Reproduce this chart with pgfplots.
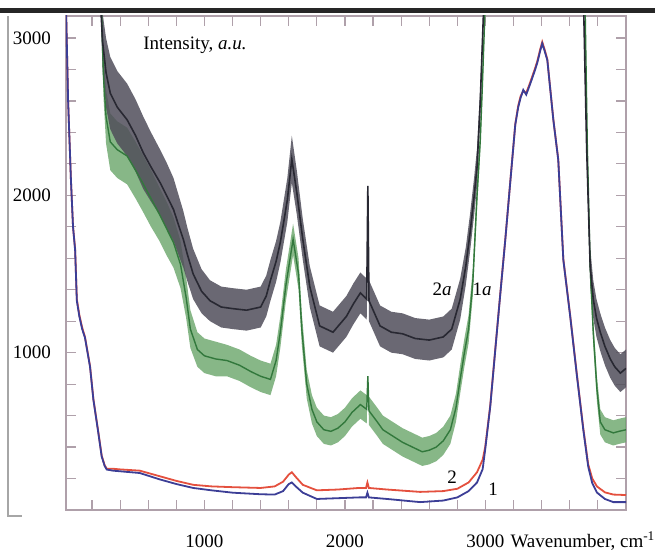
\documentclass[border=0pt]{standalone}
\usepackage{fontspec}
\setmainfont{Liberation Serif}
\usepackage{pgfplots}
\usepackage{pgfplotstable}
\pgfplotsset{compat=1.18}
\usepgfplotslibrary{fillbetween}
\definecolor{cred}{RGB}{228,80,62}
\definecolor{cblue}{RGB}{60,62,150}
\definecolor{cdark}{RGB}{40,40,50}
\definecolor{cdarkband}{RGB}{80,78,90}
\definecolor{cgreen}{RGB}{50,120,60}
\definecolor{cgreenband}{RGB}{105,165,105}
\definecolor{caxis}{RGB}{175,160,170}

\pgfplotstableread{
x c lo hi
258 3500 3500 3500
265 3150 3070 3230
275 2980 2800 3160
300 2780 2560 3000
330 2650 2420 2880
380 2560 2330 2790
450 2480 2250 2710
510 2380 2150 2610
565 2270 2040 2500
620 2180 1960 2400
685 2080 1870 2290
730 2000 1790 2210
780 1910 1710 2110
820 1800 1610 1990
850 1720 1540 1900
880 1620 1450 1790
920 1500 1340 1660
980 1390 1250 1530
1040 1330 1200 1460
1120 1290 1160 1420
1200 1280 1150 1410
1300 1270 1140 1400
1400 1290 1160 1420
1440 1360 1230 1490
1470 1460 1330 1590
1510 1580 1450 1710
1540 1700 1570 1830
1590 1970 1830 2110
1622 2230 2080 2380
1657 2020 1880 2160
1700 1720 1590 1850
1750 1420 1290 1550
1820 1170 1040 1300
1915 1130 1000 1260
2010 1230 1100 1360
2060 1310 1180 1440
2110 1380 1250 1510
2155 1340 1210 1470
2163 2060 2060 2060
2171 1330 1200 1460
2250 1170 1040 1300
2330 1130 1000 1260
2410 1120 990 1250
2500 1090 960 1220
2600 1080 950 1210
2700 1100 970 1230
2760 1150 1020 1280
2820 1340 1210 1470
2860 1550 1430 1670
2890 1760 1640 1880
2920 2000 1880 2120
2940 2180 2060 2300
2963 2600 2510 2690
2985 3140 3090 3190
3000 3500 3500 3500
3680 3500 3500 3500
3700 3140 3090 3190
3720 2300 2210 2390
3745 1550 1430 1670
3767 1340 1220 1460
3790 1220 1100 1340
3817 1130 1010 1250
3850 1040 920 1160
3888 960 840 1080
3920 910 790 1030
3960 870 750 990
4000 900 780 1020
}\darkt

\pgfplotstableread{
x c lo hi
262 3500 3500 3500
270 3100 3040 3160
282 2750 2620 2880
300 2500 2330 2670
330 2340 2160 2520
380 2290 2110 2470
450 2250 2070 2430
510 2160 1980 2340
560 2080 1900 2260
620 1980 1800 2160
680 1880 1710 2050
730 1790 1620 1960
780 1700 1540 1860
830 1560 1410 1710
870 1350 1220 1480
900 1150 1030 1270
950 1020 910 1130
1000 980 870 1090
1080 960 850 1070
1160 950 850 1050
1250 920 820 1020
1330 880 780 980
1400 850 750 950
1470 830 730 930
1510 950 850 1050
1540 1130 1030 1230
1580 1430 1330 1530
1631 1720 1620 1820
1670 1500 1400 1600
1693 1150 1050 1250
1728 800 710 890
1765 640 550 730
1800 560 470 650
1850 510 420 600
1900 500 410 590
1950 520 430 610
2000 560 470 650
2050 620 530 710
2110 670 580 760
2155 640 550 730
2163 850 850 850
2171 630 540 720
2230 560 470 650
2270 510 420 600
2340 470 380 560
2410 430 340 520
2480 400 310 490
2550 370 280 460
2600 380 290 470
2650 400 310 490
2700 440 350 530
2750 510 420 600
2790 650 560 740
2820 830 740 920
2850 1000 910 1090
2880 1150 1060 1240
2910 1450 1360 1540
2940 2000 1920 2080
2963 2350 2280 2420
2978 2700 2640 2760
2995 3140 3090 3190
3010 3500 3500 3500
3690 3500 3500 3500
3710 3140 3090 3190
3725 2300 2230 2370
3745 1550 1470 1630
3767 1130 1050 1210
3793 770 690 850
3817 560 480 640
3850 510 430 590
3910 490 410 570
3950 500 420 580
4000 510 430 590
}\greent

\pgfplotstableread{
x y
15 3200
30 2600
50 2100
65 1800
80 1650
92 1330
110 1230
130 1150
150 1095
186 910
210 700
245 490
269 340
290 280
305 257
350 250
400 246
540 235
680 195
800 165
920 140
1050 125
1200 110
1400 100
1500 98
1560 120
1600 165
1622 175
1650 150
1700 110
1800 70
1950 75
2100 80
2150 80
2160 110
2170 80
2300 70
2535 50
2700 60
2800 80
2880 120
2940 175
2980 260
2998 384
3034 657
3070 1019
3105 1368
3141 1717
3176 2079
3212 2448
3233 2560
3250 2620
3269 2670
3290 2640
3319 2710
3350 2790
3368 2840
3390 2920
3404 2965
3420 2920
3440 2860
3483 2479
3518 2225
3554 1590
3603 1230
3651 850
3696 511
3731 276
3760 170
3793 111
3850 70
3910 50
4000 50
}\bluet

\pgfplotstableread{
x y
15 3200
30 2600
50 2100
65 1800
80 1660
92 1340
110 1240
130 1160
150 1100
186 915
210 705
245 495
269 345
290 285
305 262
350 262
400 258
540 250
680 215
800 185
920 160
1050 150
1200 145
1400 140
1500 150
1560 180
1600 225
1622 240
1650 210
1700 160
1800 125
1950 130
2100 140
2150 140
2160 175
2170 140
2300 130
2535 115
2700 120
2800 135
2880 175
2940 240
2980 320
2998 400
3034 665
3070 1025
3105 1372
3141 1720
3176 2082
3212 2452
3233 2570
3250 2630
3269 2665
3290 2650
3319 2720
3350 2800
3368 2850
3390 2930
3404 2975
3420 2930
3440 2865
3483 2482
3518 2228
3554 1595
3603 1235
3651 858
3696 520
3731 290
3760 200
3793 150
3850 112
3910 98
4000 95
}\redt

\begin{document}
\begin{tikzpicture}
\begin{axis}[
  scale only axis,
  width=280pt, height=247pt,
  xmin=15, xmax=4000, ymin=0, ymax=3140,
  clip mode=individual,
  xtick={1000,2000,3000},
  minor xtick={200,400,...,3800},
  ytick={1000,2000,3000},
  minor ytick={200,400,...,3000},
  major tick length=5pt, minor tick length=5pt,
  axis line style={caxis, line width=0.6pt},
  every tick/.style={caxis, line width=0.6pt},
  /pgf/number format/assume math mode=true,
  /pgf/number format/1000 sep={},
  tick label style={font=\fontsize{9.5}{11}\selectfont},
  xticklabel style={anchor=base, yshift=-19pt},
  yticklabel style={xshift=-4pt},
]
\addplot[name path=glo, draw=none, forget plot] table[x=x, y=lo]{\greent};
\addplot[name path=ghi, draw=none, forget plot] table[x=x, y=hi]{\greent};
\addplot[fill=cgreenband, fill opacity=0.8, draw=none, forget plot] fill between[of=glo and ghi];
\addplot[cgreen, line width=0.7pt] table[x=x, y=c]{\greent};

\addplot[name path=dlo, draw=none, forget plot] table[x=x, y=lo]{\darkt};
\addplot[name path=dhi, draw=none, forget plot] table[x=x, y=hi]{\darkt};
\addplot[fill=cdarkband, fill opacity=0.85, draw=none, forget plot] fill between[of=dlo and dhi];
\addplot[cdark, line width=0.8pt] table[x=x, y=c]{\darkt};

\addplot[cred, line width=0.9pt] table[x=x, y=y]{\redt};
\addplot[cblue, line width=0.9pt] table[x=x, y=y]{\bluet};

\node[anchor=west, inner sep=0pt, font=\fontsize{9.5}{11}\selectfont] at (axis cs:563,2955) {Intensity, \textit{a.u.}};
\node[inner sep=0pt, font=\fontsize{9.5}{11}\selectfont] at (axis cs:2692,1400) {2\textit{a}};
\node[inner sep=0pt, font=\fontsize{9.5}{11}\selectfont] at (axis cs:2977,1400) {1\textit{a}};
\node[inner sep=0pt, font=\fontsize{9.5}{11}\selectfont] at (axis cs:2763,206) {2};
\node[inner sep=0pt, font=\fontsize{9.5}{11}\selectfont] at (axis cs:3055,130) {1};
\node[anchor=base west, inner sep=0pt, font=\fontsize{9.5}{11}\selectfont, yshift=-19pt, xshift=2.5pt] at (axis cs:3140,0) {Wavenumber, cm\textsuperscript{-1}};

\coordinate (bbl) at (rel axis cs:-0.11786,-0.08907);
\coordinate (btr) at (rel axis cs:1.05179,1.03239);
\coordinate (tl1) at (rel axis cs:-0.11786,1.0111);
\coordinate (tl2) at (rel axis cs:1.05179,1.0111);
\coordinate (ll1) at (rel axis cs:-0.1036,1.0);
\coordinate (ll2) at (rel axis cs:-0.1036,-0.0121);
\coordinate (ll3) at (rel axis cs:-0.0786,-0.0121);
\end{axis}
\pgfresetboundingbox
\path[use as bounding box] (bbl) rectangle (btr);
\draw[line width=2.2pt, black!85] (tl1) -- (tl2);
\draw[line width=0.6pt, gray!70] (ll1) -- (ll2) -- (ll3);
\end{tikzpicture}
\end{document}
